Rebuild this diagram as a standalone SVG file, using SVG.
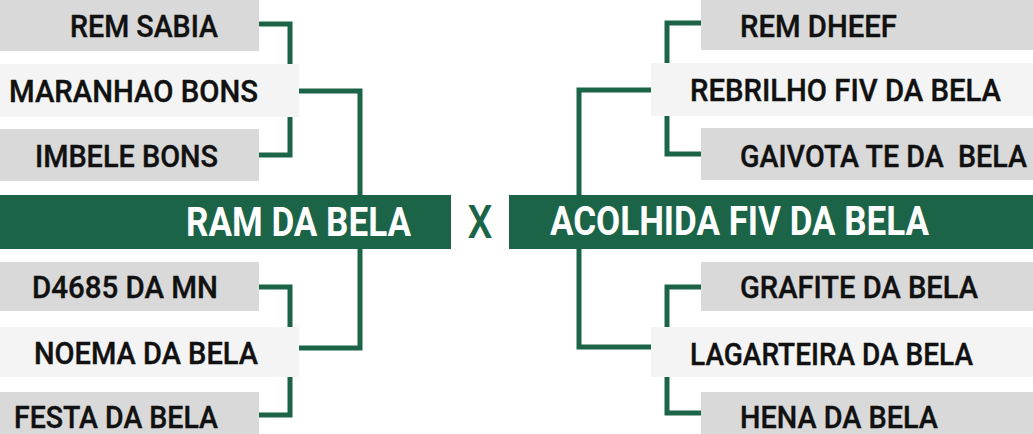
<svg xmlns="http://www.w3.org/2000/svg" width="1033" height="434" viewBox="0 0 1033 434">
<style>
.g{fill:#d9d9d9}
.l{fill:#f4f4f4}
.bar{fill:#1c6448}
.lbl{font-family:Roboto,"Liberation Sans",sans-serif;font-weight:500;font-size:31px;fill:#111;stroke:#111;stroke-width:0.4}
.big{font-family:Roboto,"Liberation Sans",sans-serif;font-weight:700;font-size:40px;fill:#fff}
.x{font-family:Roboto,"Liberation Sans",sans-serif;font-weight:500;font-size:46px;fill:#1c6448}
.c{fill:none;stroke:#1c6448;stroke-width:5}
</style>
<rect width="1033" height="434" fill="#fff"/>
<g id="connectors">
<path class="c" d="M259,24 H290 V155 H259"/>
<path class="c" d="M299,91 H360 V348 H299"/>
<path class="c" d="M259,287 H290 V415 H259"/>
<path class="c" d="M701,23 H667 V154 H701"/>
<path class="c" d="M651,90 H579 V347 H651"/>
<path class="c" d="M701,287 H667 V413 H701"/>
</g>
<g id="rem-sabia"><rect class="g" x="0" y="0" width="259" height="51"/><text class="lbl" x="218" y="37" text-anchor="end" textLength="148" lengthAdjust="spacingAndGlyphs">REM SABIA</text></g>
<g id="maranhao-bons"><rect class="l" x="0" y="64" width="299" height="53"/><text class="lbl" x="258" y="102" text-anchor="end" textLength="249" lengthAdjust="spacingAndGlyphs">MARANHAO BONS</text></g>
<g id="imbele-bons"><rect class="g" x="0" y="129" width="259" height="52"/><text class="lbl" x="218" y="167" text-anchor="end" textLength="183" lengthAdjust="spacingAndGlyphs">IMBELE BONS</text></g>
<g id="ram-da-bela"><rect class="bar" x="0" y="195" width="451" height="54"/><text class="big" x="411" y="236" text-anchor="end" textLength="225" lengthAdjust="spacingAndGlyphs">RAM DA BELA</text></g>
<g id="d4685-da-mn"><rect class="g" x="0" y="262" width="259" height="49"/><text class="lbl" x="218" y="298" text-anchor="end" textLength="186" lengthAdjust="spacingAndGlyphs">D4685 DA MN</text></g>
<g id="noema-da-bela"><rect class="l" x="0" y="327" width="299" height="50"/><text class="lbl" x="258" y="364" text-anchor="end" textLength="224" lengthAdjust="spacingAndGlyphs">NOEMA DA BELA</text></g>
<g id="festa-da-bela"><rect class="g" x="0" y="392" width="259" height="50"/><text class="lbl" x="218" y="428" text-anchor="end" textLength="204" lengthAdjust="spacingAndGlyphs">FESTA DA BELA</text></g>
<g id="versus"><text class="x" x="480" y="238" text-anchor="middle" textLength="25" lengthAdjust="spacingAndGlyphs">X</text></g>
<g id="rem-dheef"><rect class="g" x="701" y="0" width="332" height="50"/><text class="lbl" x="740" y="37" textLength="157" lengthAdjust="spacingAndGlyphs">REM DHEEF</text></g>
<g id="rebrilho-fiv-da-bela"><rect class="l" x="651" y="63" width="382" height="53"/><text class="lbl" x="690" y="101" textLength="311" lengthAdjust="spacingAndGlyphs">REBRILHO FIV DA BELA</text></g>
<g id="gaivota-te-da-bela"><rect class="g" x="701" y="128" width="332" height="52"/><text class="lbl" transform="translate(740,167) scale(0.88,1)" x="0" y="0" textLength="326" lengthAdjust="spacingAndGlyphs" xml:space="preserve">GAIVOTA TE DA  BELA</text></g>
<g id="acolhida-fiv-da-bela"><rect class="bar" x="509" y="195" width="524" height="54"/><text class="big" x="550" y="235" textLength="379" lengthAdjust="spacingAndGlyphs">ACOLHIDA FIV DA BELA</text></g>
<g id="grafite-da-bela"><rect class="g" x="701" y="262" width="332" height="49"/><text class="lbl" x="740" y="298" textLength="238" lengthAdjust="spacingAndGlyphs">GRAFITE DA BELA</text></g>
<g id="lagarteira-da-bela"><rect class="l" x="651" y="327" width="382" height="50"/><text class="lbl" x="690" y="365" textLength="283" lengthAdjust="spacingAndGlyphs">LAGARTEIRA DA BELA</text></g>
<g id="hena-da-bela"><rect class="g" x="701" y="392" width="332" height="50"/><text class="lbl" x="740" y="428" textLength="198" lengthAdjust="spacingAndGlyphs">HENA DA BELA</text></g>
</svg>
